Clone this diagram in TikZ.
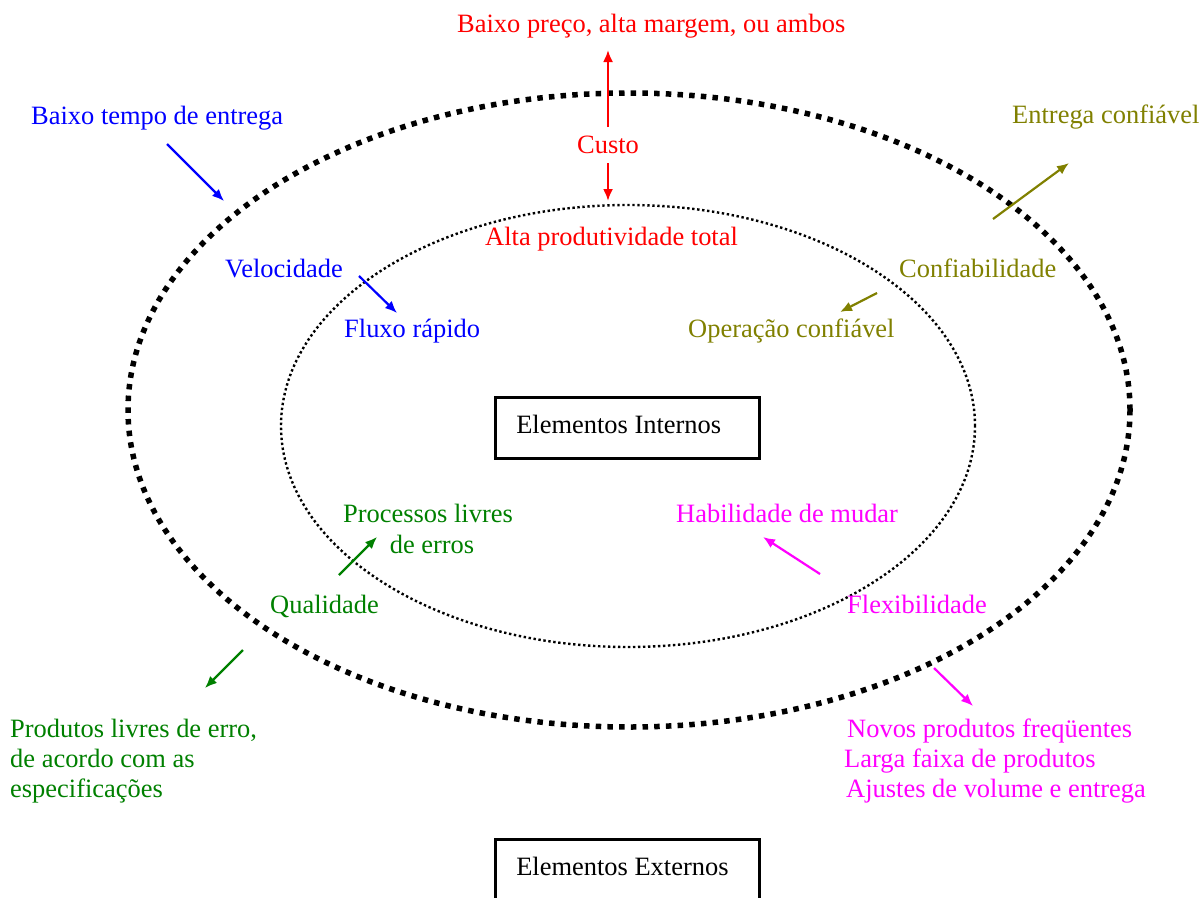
\documentclass[tikz,border=0pt]{standalone}
\usepackage{fontspec}
\setmainfont{Liberation Serif}
\usetikzlibrary{arrows.meta}
\definecolor{cblue}{RGB}{0,0,255}
\definecolor{cred}{RGB}{255,0,0}
\definecolor{colive}{RGB}{128,128,0}
\definecolor{cgreen}{RGB}{0,128,0}
\definecolor{cmag}{RGB}{255,0,255}
\newcommand{\boxline}[1]{\makebox[222pt][l]{#1}}
\begin{document}
\begin{tikzpicture}[x=1pt,y=-1pt,
  txt/.style={inner sep=0pt, font=\fontsize{26.45}{30}\selectfont},
  lbl/.style={txt, anchor=base west},
  lblc/.style={txt, anchor=base},
  arr/.style={line width=2.2pt, -{Latex[length=12pt,width=10pt]}},
  outerring/.style={line width=5.5pt, dash pattern=on 5.5pt off 6.2pt},
  innerring/.style={line width=2.4pt, dash pattern=on 2.4pt off 2.6pt},
  elbox/.style={draw, line width=2.5pt, anchor=north west, txt,
    minimum width=264pt, minimum height=61pt,
    inner xsep=21pt, inner ysep=0pt,
    text height=18pt, text depth=7pt}]
\clip (0,0) rectangle (1204,897);

% the two rings
\draw[outerring] (629,410) ellipse [x radius=501pt, y radius=317pt];
\draw[innerring] (628,426) ellipse [x radius=347pt, y radius=221pt];

% boxes
\node[elbox] (internos) at (494,396) {\boxline{Elementos Internos}};
\node[elbox] (externos) at (494,838) {\boxline{Elementos Externos}};

% cost (red)
\node[lbl, text=cred] (preco) at (457,32) {Baixo preço, alta margem, ou ambos};
\node[lbl, text=cred] (custo) at (577,153) {Custo};
\node[lbl, text=cred] (produtiv) at (485,245) {Alta produtividade total};

% speed (blue)
\node[lbl, text=cblue] (tempo) at (31,124) {Baixo tempo de entrega};
\node[lbl, text=cblue] (veloc) at (225,277) {Velocidade};
\node[lbl, text=cblue] (fluxo) at (344,337) {Fluxo rápido};

% dependability (olive)
\node[lbl, text=colive] (entrega) at (1012,123) {Entrega confiável};
\node[lbl, text=colive] (confiab) at (899,277) {Confiabilidade};
\node[lbl, text=colive] (operacao) at (688,337) {Operação confiável};

% quality (green)
\node[lblc, text=cgreen] (proc1) at (428,522) {Processos livres};
\node[lblc, text=cgreen] (proc2) at (432,553) {de erros};
\node[lbl, text=cgreen] (qualid) at (270,613) {Qualidade};
\node[lbl, text=cgreen] (prod1) at (10,737) {Produtos livres de erro,};
\node[lbl, text=cgreen] (prod2) at (10,767) {de acordo com as};
\node[lbl, text=cgreen] (prod3) at (10,797) {especificações};

% flexibility (magenta)
\node[lbl, text=cmag] (habil) at (676,522) {Habilidade de mudar};
\node[lbl, text=cmag] (flex) at (847,613) {Flexibilidade};
\node[lbl, text=cmag] (novos) at (847,737) {Novos produtos freqüentes};
\node[lbl, text=cmag] (larga) at (844,767) {Larga faixa de produtos};
\node[lbl, text=cmag] (ajustes) at (846,797) {Ajustes de volume e entrega};

% arrow end points
\coordinate (cUpS) at (608,127);   \coordinate (cUpE) at (608,50);
\coordinate (cDnS) at (608,163);   \coordinate (cDnE) at (608,201);
\coordinate (vOutS) at (167,144);  \coordinate (vOutE) at (224,201);
\coordinate (vInS) at (359,276);   \coordinate (vInE) at (397,313);
\coordinate (rOutS) at (993,219);  \coordinate (rOutE) at (1069,163);
\coordinate (rInS) at (877,293);   \coordinate (rInE) at (840,312);
\coordinate (qInS) at (339,575);   \coordinate (qInE) at (377,537);
\coordinate (qOutS) at (243,650);  \coordinate (qOutE) at (205,688);
\coordinate (fInS) at (820,574);   \coordinate (fInE) at (763,537);
\coordinate (fOutS) at (934,668);  \coordinate (fOutE) at (973,706);

\draw[arr, cred] (cUpS) -- (cUpE);
\draw[arr, cred] (cDnS) -- (cDnE);
\draw[arr, cblue] (vOutS) -- (vOutE);
\draw[arr, cblue] (vInS) -- (vInE);
\draw[arr, colive] (rOutS) -- (rOutE);
\draw[arr, colive] (rInS) -- (rInE);
\draw[arr, cgreen] (qInS) -- (qInE);
\draw[arr, cgreen] (qOutS) -- (qOutE);
\draw[arr, cmag] (fInS) -- (fInE);
\draw[arr, cmag] (fOutS) -- (fOutE);
\end{tikzpicture}
\end{document}
